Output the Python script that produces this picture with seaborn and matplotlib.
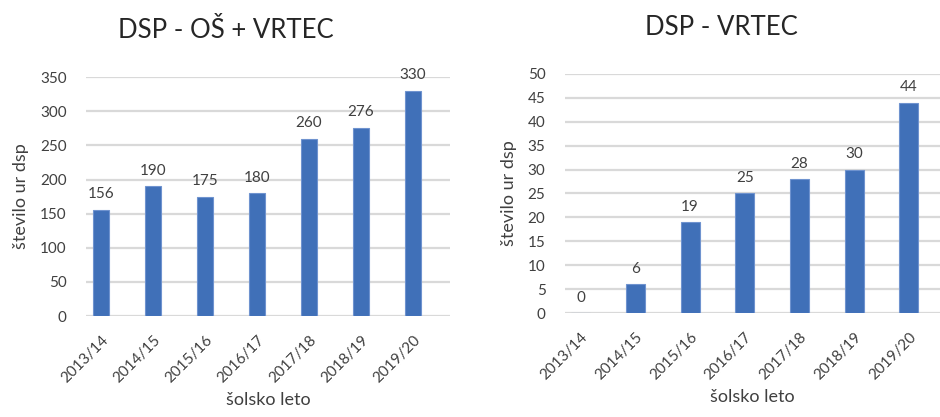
import pandas as pd
import matplotlib
matplotlib.use('Agg')
import matplotlib.pyplot as plt
import seaborn as sns

# school years and hours of DSP
years = ['2013/14', '2014/15', '2015/16', '2016/17', '2017/18', '2018/19', '2019/20']
os_vrtec = [156, 190, 175, 180, 260, 276, 330]
vrtec = [0, 6, 19, 25, 28, 30, 44]

sns.set_style('white')
plt.rcParams['font.family'] = ['Lato', 'DejaVu Sans']

bar_color = '#4070B8'
grid_color = '#D9D9D9'
text_color = '#404040'

fig = plt.figure(figsize=(9.4, 4.17), dpi=100)
ax1 = fig.add_axes([0.0915, 0.242, 0.387, 0.573])
ax2 = fig.add_axes([0.601, 0.249, 0.399, 0.574])


def draw(ax, values, title, ymax, step, width, xlim, title_x, title_y):
    df = pd.DataFrame({'leto': years, 'ure': values})
    sns.barplot(data=df, x='leto', y='ure', color=bar_color, width=width,
                saturation=1, edgecolor='#6F93CF', linewidth=0.8, ax=ax, zorder=3)
    ax.set_ylim(0, ymax)
    ax.set_xlim(*xlim)
    ax.set_yticks(range(0, ymax + 1, step))
    ax.yaxis.grid(True, color=grid_color, linewidth=1.6, zorder=0)
    ax.set_axisbelow(True)
    for s in ax.spines.values():
        s.set_visible(False)
    ax.tick_params(axis='both', length=0, labelsize=11, labelcolor=text_color)
    ax.tick_params(axis='y', pad=14)
    ax.tick_params(axis='x', pad=12)
    for lab in ax.get_xticklabels():
        lab.set_rotation(45)
        lab.set_ha('right')
        lab.set_rotation_mode('anchor')
    for i, v in enumerate(values):
        ax.annotate(str(v), (i, v), xytext=(0, 6), textcoords='offset points',
                    ha='center', va='bottom', fontsize=11, color=text_color,
                    annotation_clip=False)
    ax.set_xlabel('šolsko leto', fontsize=13, color=text_color, labelpad=5)
    ax.set_ylabel('število ur dsp', fontsize=13, color=text_color, labelpad=8)
    fig.text(title_x, title_y, title, ha='center', va='center',
             fontsize=18.5, color='#262626')


draw(ax1, os_vrtec, 'DSP - OŠ + VRTEC', 350, 50, 0.31, (-0.29, 6.71), 0.240, 0.928)
draw(ax2, vrtec, 'DSP - VRTEC', 50, 5, 0.35, (-0.29, 6.57), 0.767, 0.935)

fig.savefig('out.png', dpi=100)
